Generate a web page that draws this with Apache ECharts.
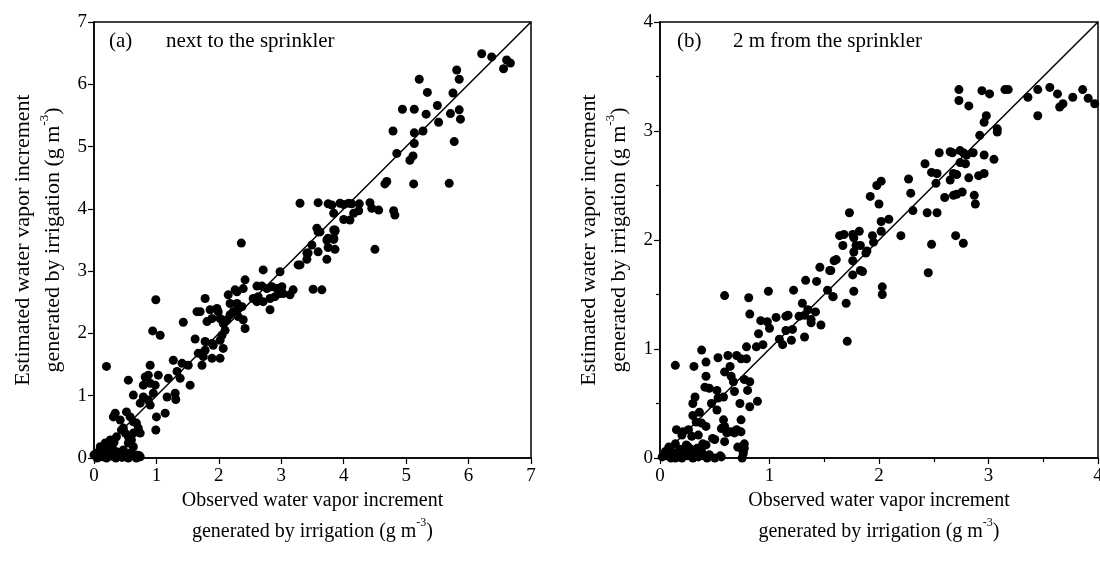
<!DOCTYPE html>
<html>
<head>
<meta charset="utf-8">
<script src="https://cdn.jsdelivr.net/npm/echarts@6/dist/echarts.min.js"></script>
<style>
  html, body { margin: 0; padding: 0; background: #fff; }
  #chart { width: 1100px; height: 562px; }
</style>
</head>
<body>
<div id="chart"></div>
<script>
  // panel (a): next to the sprinkler, [observed, estimated]
  let pointsA = [
    [6.21, 6.49], [6.37, 6.44], [6.61, 6.39], [6.67, 6.34], [6.56, 6.25], [5.81, 6.23], [5.85, 6.08],
    [5.21, 6.08], [5.34, 5.87], [5.75, 5.86], [4.94, 5.60], [5.13, 5.60], [5.50, 5.66], [5.32, 5.52],
    [5.71, 5.53], [5.85, 5.59], [5.87, 5.44], [5.52, 5.39], [4.79, 5.25], [5.13, 5.22], [5.27, 5.25],
    [5.13, 5.05], [5.77, 5.08], [4.85, 4.89], [5.06, 4.78], [5.11, 4.85], [4.69, 4.44], [4.66, 4.40],
    [5.12, 4.40], [5.69, 4.41], [3.30, 4.09], [3.59, 4.10], [3.75, 4.08], [3.81, 4.06], [3.94, 4.09],
    [4.00, 4.07], [4.08, 4.09], [4.13, 4.08], [4.25, 4.08], [4.42, 4.10], [4.45, 4.01], [4.56, 3.98],
    [4.80, 3.97], [4.82, 3.90], [3.84, 3.93], [4.00, 3.83], [4.10, 3.82], [4.16, 3.93], [4.24, 3.97],
    [3.57, 3.69], [3.84, 3.66], [3.86, 3.66], [3.75, 3.53], [3.84, 3.53], [3.59, 3.63], [3.86, 3.64],
    [3.73, 3.50], [3.84, 3.51], [3.49, 3.42], [3.59, 3.31], [3.41, 3.29], [3.41, 3.19], [3.73, 3.19],
    [3.75, 3.38], [3.86, 3.35], [3.30, 3.10], [4.50, 3.35], [3.51, 2.71], [3.65, 2.70], [2.36, 3.45],
    [3.62, 3.63], [3.43, 3.29], [3.27, 3.10], [2.98, 2.99], [2.71, 3.02], [2.42, 2.86], [2.26, 2.70],
    [2.29, 2.67], [2.15, 2.62], [2.39, 2.72], [2.61, 2.76], [2.69, 2.76], [2.77, 2.72], [2.85, 2.75],
    [2.93, 2.72], [3.01, 2.75], [3.03, 2.64], [2.63, 2.59], [2.55, 2.56], [2.61, 2.51], [2.71, 2.51],
    [2.82, 2.56], [2.90, 2.59], [2.98, 2.64], [3.19, 2.70], [3.14, 2.62], [2.82, 2.38], [1.78, 2.56],
    [1.65, 2.35], [1.70, 2.35], [1.86, 2.38], [1.97, 2.40], [1.99, 2.35], [1.89, 2.24], [1.81, 2.19],
    [2.02, 2.24], [2.07, 2.16], [2.13, 2.22], [2.18, 2.30], [2.23, 2.35], [2.29, 2.38], [2.37, 2.43],
    [2.31, 2.27], [2.39, 2.22], [2.42, 2.08], [2.10, 2.05], [2.18, 2.48], [2.29, 2.48], [1.43, 2.18],
    [0.99, 2.54], [0.94, 2.04], [1.06, 1.97], [1.62, 1.91], [1.78, 1.87], [1.89, 1.84], [1.78, 1.73],
    [1.73, 1.68], [1.91, 1.81], [2.02, 1.89], [2.05, 1.97], [2.07, 1.76], [1.67, 1.68], [1.75, 1.63],
    [1.73, 1.49], [1.89, 1.60], [2.02, 1.60], [1.51, 1.49], [1.41, 1.52], [1.33, 1.39], [1.27, 1.57],
    [1.38, 1.28], [1.54, 1.17], [0.90, 1.49], [0.82, 1.30], [0.87, 1.33], [1.03, 1.33], [0.90, 1.20],
    [0.79, 1.17], [0.98, 1.17], [0.95, 1.04], [1.17, 0.98], [1.30, 1.04], [1.31, 0.94], [1.19, 1.28],
    [1.14, 0.72], [1.00, 0.66], [0.99, 0.45], [0.90, 0.85], [0.87, 0.93], [0.74, 0.88], [0.79, 0.98],
    [0.63, 1.01], [0.55, 1.25], [0.20, 1.47], [0.34, 0.72], [0.31, 0.66], [0.42, 0.61], [0.52, 0.74],
    [0.58, 0.66], [0.63, 0.58], [0.68, 0.56], [0.71, 0.48], [0.74, 0.40], [0.63, 0.40], [0.47, 0.48],
    [0.44, 0.45], [0.50, 0.40], [0.55, 0.34], [0.60, 0.29], [0.36, 0.34], [0.26, 0.29], [0.18, 0.24],
    [0.23, 0.18], [0.15, 0.13], [0.10, 0.10], [0.04, 0.08], [0.00, 0.05], [0.07, 0.02], [0.26, 0.08],
    [0.36, 0.10], [0.47, 0.13], [0.58, 0.08], [0.68, 0.05], [0.74, 0.02], [0.52, 0.02], [0.42, 0.05],
    [0.63, 0.18], [0.55, 0.24], [0.05, 0.00], [0.12, 0.02], [0.20, 0.00], [0.28, 0.03], [0.35, 0.00],
    [0.45, 0.01], [0.55, 0.00], [0.60, 0.03], [0.68, 0.00], [0.72, 0.04], [0.15, 0.06], [0.25, 0.10],
    [0.30, 0.15], [0.40, 0.08], [0.50, 0.06], [0.20, 0.22], [0.32, 0.25], [0.10, 0.18], [0.18, 0.12]
  ]

  // panel (b): 2 m from the sprinkler, [observed, estimated]
  let pointsB = [
    [2.73, 3.38], [2.73, 3.28], [2.82, 3.23], [2.94, 3.37], [3.01, 3.34], [3.15, 3.38], [3.18, 3.38],
    [3.36, 3.31], [3.45, 3.38], [3.56, 3.40], [3.63, 3.34], [3.65, 3.22], [3.68, 3.25], [3.77, 3.31],
    [3.86, 3.38], [3.91, 3.30], [3.97, 3.25], [3.45, 3.14], [2.98, 3.14], [2.96, 3.08], [2.92, 2.96],
    [3.08, 3.02], [3.08, 2.99], [2.55, 2.80], [2.65, 2.81], [2.67, 2.80], [2.74, 2.82], [2.77, 2.80],
    [2.80, 2.78], [2.86, 2.80], [2.96, 2.78], [3.05, 2.74], [2.42, 2.70], [2.48, 2.62], [2.53, 2.61],
    [2.68, 2.61], [2.71, 2.60], [2.65, 2.55], [2.74, 2.71], [2.79, 2.70], [2.82, 2.57], [2.91, 2.59],
    [2.96, 2.61], [2.52, 2.52], [2.27, 2.56], [2.29, 2.43], [2.60, 2.39], [2.68, 2.41], [2.71, 2.42],
    [2.76, 2.44], [2.87, 2.41], [2.88, 2.33], [2.02, 2.54], [1.98, 2.50], [1.92, 2.40], [2.00, 2.33],
    [1.73, 2.25], [2.02, 2.17], [2.09, 2.19], [2.31, 2.27], [2.44, 2.25], [2.53, 2.25], [1.64, 2.04],
    [1.68, 2.05], [1.76, 2.05], [1.82, 2.08], [1.77, 2.02], [1.67, 1.95], [1.79, 1.95], [1.83, 1.95],
    [1.77, 1.89], [1.88, 1.88], [1.89, 1.90], [1.94, 2.04], [2.02, 2.08], [2.20, 2.04], [1.95, 1.98],
    [1.61, 1.82], [1.56, 1.72], [1.76, 1.81], [1.76, 1.68], [1.83, 1.72], [1.85, 1.71], [1.77, 1.53],
    [1.58, 1.48], [1.70, 1.42], [1.71, 1.07], [2.03, 1.57], [2.03, 1.50], [2.45, 1.70], [2.48, 1.96],
    [2.70, 2.04], [2.77, 1.97], [0.59, 1.49], [0.81, 1.47], [0.99, 1.53], [1.22, 1.54], [1.33, 1.63],
    [1.43, 1.62], [1.46, 1.75], [1.55, 1.72], [1.59, 1.81], [0.82, 1.32], [0.92, 1.26], [1.00, 1.19],
    [0.98, 1.25], [1.06, 1.29], [1.15, 1.30], [1.17, 1.31], [0.90, 1.14], [0.94, 1.04], [0.88, 1.02],
    [1.09, 1.09], [1.12, 1.04], [1.15, 1.17], [1.21, 1.18], [1.20, 1.08], [1.27, 1.30], [1.30, 1.42],
    [1.35, 1.36], [1.32, 1.31], [1.38, 1.27], [1.42, 1.34], [1.47, 1.22], [1.32, 1.11], [1.38, 1.24],
    [1.58, 1.48], [1.53, 1.54], [0.38, 0.99], [0.42, 0.88], [0.31, 0.84], [0.53, 0.92], [0.62, 0.94],
    [0.70, 0.94], [0.74, 0.91], [0.79, 0.91], [0.59, 0.79], [0.64, 0.84], [0.65, 0.75], [0.42, 0.75],
    [0.41, 0.65], [0.45, 0.64], [0.52, 0.62], [0.58, 0.56], [0.53, 0.55], [0.47, 0.50], [0.67, 0.70],
    [0.68, 0.61], [0.77, 0.72], [0.82, 0.70], [0.80, 0.62], [0.73, 0.50], [0.74, 0.35], [0.82, 0.47],
    [0.89, 0.52], [0.79, 1.02], [0.14, 0.85], [0.30, 0.50], [0.32, 0.56], [0.36, 0.42], [0.30, 0.39],
    [0.33, 0.33], [0.38, 0.32], [0.42, 0.29], [0.26, 0.26], [0.21, 0.24], [0.15, 0.26], [0.20, 0.21],
    [0.29, 0.20], [0.35, 0.21], [0.39, 0.13], [0.42, 0.12], [0.48, 0.18], [0.50, 0.17], [0.56, 0.27],
    [0.59, 0.29], [0.58, 0.35], [0.52, 0.44], [0.61, 0.23], [0.64, 0.24], [0.67, 0.24], [0.59, 0.15],
    [0.68, 0.23], [0.70, 0.26], [0.74, 0.24], [0.71, 0.10], [0.77, 0.13], [0.76, 0.06], [0.77, 0.09],
    [0.56, 0.01], [0.08, 0.10], [0.14, 0.13], [0.05, 0.06], [0.02, 0.01], [0.06, 0.02], [0.10, 0.00],
    [0.12, 0.05], [0.16, 0.03], [0.20, 0.00], [0.22, 0.06], [0.25, 0.02], [0.28, 0.08], [0.30, 0.00],
    [0.32, 0.04], [0.35, 0.01], [0.38, 0.06], [0.40, 0.02], [0.43, 0.00], [0.18, 0.08], [0.26, 0.10],
    [0.14, 0.00], [0.08, 0.04], [0.34, 0.09], [0.45, 0.03], [0.50, 0.00], [0.55, 0.02], [0.20, 0.04],
    [0.24, 0.12], [0.75, 0.00], [0.76, 0.04], [0.74, 0.09]
  ]

  let oneToOneA = [[0, 0], [7, 7]]
  let oneToOneB = [[0, 0], [4, 4]]

  let panelLabels = ['(a)', '(b)']
  let panelTitles = ['next to the sprinkler', '2 m from the sprinkler']
  let xName = 'Observed water vapor increment'
  let yName = 'Estimated water vapor increment'
  let unitName = 'generated by irrigation (g m'

  let font = '"Liberation Serif", "Times New Roman", serif'
  let myChart = echarts.init(document.getElementById('chart'))

  let richName = (size, lh) => ({
    n: {fontFamily: font, fontSize: size, color: '#000', lineHeight: lh},
    sup: {fontFamily: font, fontSize: Math.round(size * 0.6), color: '#000', verticalAlign: 'top', lineHeight: lh, padding: [0, 0, 14, 0]}
  })
  let nameText = (first) => '{n|' + first + '}\n{n|' + unitName + '}{sup|-3}{n|)}'

  let makeX = (idx, max, minor) => ({
    type: 'value', gridIndex: idx, min: 0, max: max, interval: 1,
    name: nameText(xName), nameLocation: 'middle', nameGap: 17,
    nameTextStyle: {rich: richName(20, 31), verticalAlign: 'top'},
    axisLine: {show: true, lineStyle: {color: '#000', width: 1.5}},
    axisTick: {show: true, inside: false, length: 6, lineStyle: {color: '#000', width: 1.2}},
    minorTick: {show: minor, splitNumber: 2, length: 4, lineStyle: {color: '#000', width: 1.2}},
    axisLabel: {fontFamily: font, fontSize: 19, color: '#000', margin: 9},
    splitLine: {show: false}
  })
  let makeY = (idx, max, minor) => ({
    type: 'value', gridIndex: idx, min: 0, max: max, interval: 1,
    name: nameText(yName), nameLocation: 'middle', nameGap: 26,
    nameTextStyle: {rich: richName(22, 30)},
    axisLine: {show: true, lineStyle: {color: '#000', width: 1.5}},
    axisTick: {show: true, inside: false, length: 6, lineStyle: {color: '#000', width: 1.2}},
    minorTick: {show: minor, splitNumber: 2, length: 4, lineStyle: {color: '#000', width: 1.2}},
    axisLabel: {fontFamily: font, fontSize: 19, color: '#000', margin: 7},
    splitLine: {show: false}
  })

  let titleStyle = {fontFamily: font, fontSize: 21, fontWeight: 'normal', color: '#000'}

  let option = {
    backgroundColor: '#fff',
    animation: false,
    title: [
      {text: panelLabels[0], left: 109, top: 31, textStyle: titleStyle, padding: 0},
      {text: panelTitles[0], left: 166, top: 31, textStyle: titleStyle, padding: 0},
      {text: panelLabels[1], left: 677, top: 31, textStyle: titleStyle, padding: 0},
      {text: panelTitles[1], left: 733, top: 31, textStyle: titleStyle, padding: 0}
    ],
    grid: [
      {left: 94, top: 22, width: 437, height: 436, outerBoundsMode: 'none', containLabel: false,
        show: true, borderColor: '#000', borderWidth: 1.5, backgroundColor: 'transparent'},
      {left: 660, top: 22, width: 438, height: 436, outerBoundsMode: 'none', containLabel: false,
        show: true, borderColor: '#000', borderWidth: 1.5, backgroundColor: 'transparent'}
    ],
    xAxis: [makeX(0, 7, false), makeX(1, 4, true)],
    yAxis: [makeY(0, 7, false), makeY(1, 4, true)],
    series: [
      {type: 'scatter', xAxisIndex: 0, yAxisIndex: 0, data: pointsA, symbolSize: 9, itemStyle: {color: '#000', opacity: 1}},
      {type: 'line', xAxisIndex: 0, yAxisIndex: 0, data: oneToOneA, showSymbol: false, lineStyle: {color: '#000', width: 1.5}},
      {type: 'scatter', xAxisIndex: 1, yAxisIndex: 1, data: pointsB, symbolSize: 9, itemStyle: {color: '#000', opacity: 1}},
      {type: 'line', xAxisIndex: 1, yAxisIndex: 1, data: oneToOneB, showSymbol: false, lineStyle: {color: '#000', width: 1.5}}
    ]
  }
  myChart.setOption(option)
</script>
</body>
</html>
